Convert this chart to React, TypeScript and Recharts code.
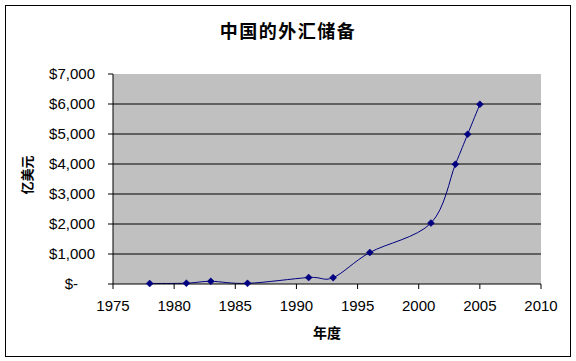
import React from "react";
import { LineChart, Line, XAxis, YAxis, CartesianGrid, ReferenceLine } from "recharts";

const years = [1978, 1981, 1983, 1986, 1991, 1993, 1996, 2001, 2003, 2004, 2005];
const reserves = [17, 27, 89, 21, 217, 212, 1050, 2030, 3990, 4990, 5990];
const xTicks = [1975, 1980, 1985, 1990, 1995, 2000, 2005, 2010];
const yTicks = [0, 1000, 2000, 3000, 4000, 5000, 6000, 7000];
const gridLines = [1000, 2000, 3000, 4000, 5000, 6000];
const title = "中国的外汇储备";
const xLabel = "年度";
const yLabel = "亿美元";

const data = years.map((y, i) => ({ year: y, value: reserves[i] }));

const tickFont = { fontFamily: "'Liberation Sans', Arial, sans-serif", fontSize: 15, fill: "#000" };

// Excel-style smoothed line (Catmull-Rom / Bezier with 1/6 tension)
function excelCurve(context: any) {
  let pts: number[][] = [];
  return {
    areaStart() {},
    areaEnd() {},
    lineStart() {
      pts = [];
    },
    point(x: number, y: number) {
      pts.push([+x, +y]);
    },
    lineEnd() {
      if (!pts.length) return;
      context.moveTo(pts[0][0], pts[0][1]);
      for (let i = 0; i < pts.length - 1; i++) {
        const p0 = pts[i - 1] || pts[i];
        const p1 = pts[i];
        const p2 = pts[i + 1];
        const p3 = pts[i + 2] || pts[i + 1];
        const c1x = p1[0] + (p2[0] - p0[0]) / 6;
        const c1y = p1[1] + (p2[1] - p0[1]) / 6;
        const c2x = p2[0] - (p3[0] - p1[0]) / 6;
        const c2y = p2[1] - (p3[1] - p1[1]) / 6;
        context.bezierCurveTo(c1x, c1y, c2x, c2y, p2[0], p2[1]);
      }
    },
  };
}

const YTick = (props: any) => {
  const { x, y, payload } = props;
  const v = payload.value as number;
  if (v === 0) {
    return (
      <text x={x - 17} y={y} dy="0.355em" textAnchor="end" {...tickFont}>
        $-
      </text>
    );
  }
  return (
    <text x={x} y={y} dy="0.355em" textAnchor="end" {...tickFont}>
      {"$" + v.toLocaleString("en-US")}
    </text>
  );
};

const Diamond = (props: any) => {
  const { cx, cy, index } = props;
  if (cx == null || cy == null) return <g key={index} />;
  const r = 3.5;
  return (
    <polygon
      key={index}
      points={`${cx},${cy - r} ${cx + r},${cy} ${cx},${cy + r} ${cx - r},${cy}`}
      fill="#000080"
      stroke="#000080"
      strokeWidth={0.5}
    />
  );
};

const cjk = "'Noto Sans CJK SC', 'Noto Sans', sans-serif";

export default function App() {
  return (
    <div style={{ position: "absolute", left: 0, top: 0, width: 576, height: 361, background: "#fff" }}>
      <div
        style={{
          position: "absolute",
          left: 5,
          top: 5,
          width: 564,
          height: 350,
          border: "1px solid #000",
        }}
      />
      <div
        style={{
          position: "absolute",
          left: 0,
          width: 576,
          top: 18,
          textAlign: "center",
          fontFamily: cjk,
          fontWeight: 700,
          fontSize: 18,
          letterSpacing: 1.5,
          lineHeight: "24px",
          color: "#000",
        }}
      >
        {title}
      </div>
      <div
        style={{
          position: "absolute",
          left: 227,
          width: 200,
          top: 322,
          textAlign: "center",
          fontFamily: cjk,
          fontWeight: 700,
          fontSize: 14,
          lineHeight: "20px",
          color: "#000",
        }}
      >
        {xLabel}
      </div>
      <div
        style={{
          position: "absolute",
          left: 27 - 50,
          top: 175 - 10,
          width: 100,
          height: 20,
          transform: "rotate(-90deg)",
          textAlign: "center",
          fontFamily: cjk,
          fontWeight: 700,
          fontSize: 13,
          lineHeight: "20px",
          color: "#000",
        }}
      >
        {yLabel}
      </div>
      <div style={{ position: "absolute", left: 0, top: 0 }}>
        <LineChart
          width={576}
          height={361}
          data={data}
          margin={{ top: 74, right: 35, bottom: 37, left: 0 }}
        >
          <CartesianGrid horizontal={false} vertical={false} fill="#C0C0C0" />
          {gridLines.map((g) => (
            <ReferenceLine key={g} y={g} stroke="#000" strokeWidth={1} ifOverflow="visible" />
          ))}
          <XAxis
            dataKey="year"
            type="number"
            domain={[1975, 2010]}
            ticks={xTicks}
            interval={0}
            height={40}
            tickSize={5}
            tickMargin={11}
            axisLine={{ stroke: "#000" }}
            tickLine={{ stroke: "#000" }}
            tick={tickFont}
          />
          <YAxis
            type="number"
            domain={[0, 7000]}
            ticks={yTicks}
            interval={0}
            width={113}
            tickSize={5}
            tickMargin={13}
            axisLine={{ stroke: "#000" }}
            tickLine={{ stroke: "#000" }}
            tick={<YTick />}
          />
          <Line
            dataKey="value"
            type={excelCurve as any}
            stroke="#000080"
            strokeWidth={1}
            dot={<Diamond />}
            activeDot={false}
            isAnimationActive={false}
          />
        </LineChart>
      </div>
    </div>
  );
}
